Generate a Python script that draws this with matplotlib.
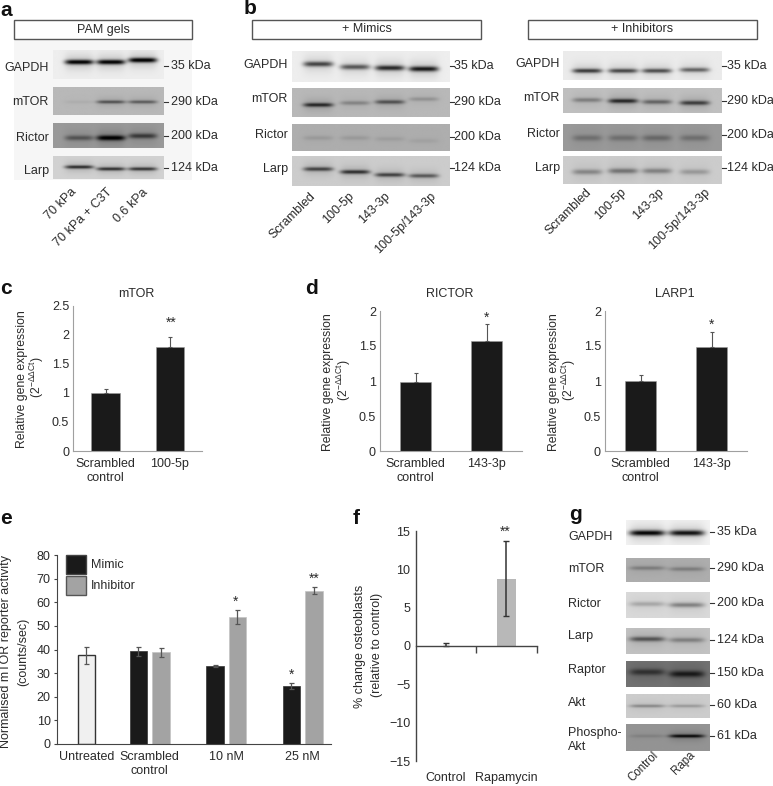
import numpy as np
import matplotlib
matplotlib.use("Agg")
import matplotlib.pyplot as plt
from matplotlib.patches import Rectangle, Patch

W, H = 773, 786
TXT = "#2a2a2a"
plt.rcParams["font.family"] = ["Liberation Sans", "DejaVu Sans"]
plt.rcParams["mathtext.default"] = "regular"
plt.rcParams["font.size"] = 9
plt.rcParams["text.color"] = TXT

# ---- blot data: one entry per row, band darkness and band height per lane
A_NAMES = ["GAPDH", "mTOR", "Rictor", "Larp"]
A_KDA = ["35 kDa", "290 kDa", "200 kDa", "124 kDa"]
A_TOP = [50, 87, 123, 156]
A_BOT = [79, 115, 148, 179]
A_BG = [0.93, 0.72, 0.6, 0.82]
A_BAND = [[62, 62, 60], [102, 102, 102], [138, 138, 136], [167, 169, 169]]
A_SIGMA = [2.4, 1.6, 2.6, 1.7]
A_DARK = [[0.88, 0.88, 0.9], [0.05, 0.5, 0.45], [0.4, 0.9, 0.55], [0.7, 0.68, 0.66]]
A_LANES = [79, 111, 143]
A_XTICK = ["70 kPa", "70 kPa + C3T", "0.6 kPa"]
A_XEND = [74, 110, 146]

M_TOP = [51, 88, 124, 156]
M_BOT = [82, 117, 151, 186]
M_BG = [0.93, 0.72, 0.68, 0.8]
M_BAND = [[64, 67, 68, 69], [105, 103, 102, 99], [138, 138, 139, 141], [169, 172, 175, 176]]
M_SIGMA = [2.6, 2.0, 2.2, 2.0]
M_DARK = [[0.62, 0.55, 0.72, 0.78], [0.7, 0.25, 0.5, 0.18], [0.1, 0.1, 0.08, 0.06], [0.6, 0.68, 0.6, 0.5]]
M_LANES = [318, 355, 390, 424]
B_NAMES = ["GAPDH", "mTOR", "Rictor", "Larp"]
B_KDA = ["35 kDa", "290 kDa", "200 kDa", "124 kDa"]
B_XTICK = ["Scrambled", "100-5p", "143-3p", "100-5p/143-3p"]
M_XEND = [313, 352, 388, 434]

I_TOP = [51, 88, 124, 156]
I_BOT = [80, 113, 151, 184]
I_BG = [0.92, 0.75, 0.6, 0.8]
I_BAND = [[71, 71, 71, 70], [100, 101, 102, 103], [138, 138, 138, 138], [172, 171, 171, 172]]
I_SIGMA = [2.2, 2.2, 3.0, 2.6]
I_DARK = [[0.65, 0.6, 0.58, 0.5], [0.3, 0.7, 0.42, 0.6], [0.24, 0.24, 0.28, 0.24], [0.3, 0.38, 0.32, 0.22]]
I_LANES = [587, 623, 657, 695]
I_XEND = [589, 624, 662, 708]

G_NAMES = ["GAPDH", "mTOR", "Rictor", "Larp", "Raptor", "Akt", "Phospho-\nAkt"]
G_KDA = ["35 kDa", "290 kDa", "200 kDa", "124 kDa", "150 kDa", "60 kDa", "61 kDa"]
G_TOP = [520, 558, 592, 628, 661, 694, 724]
G_BOT = [545, 582, 618, 654, 687, 718, 751]
G_BG = [0.95, 0.68, 0.85, 0.76, 0.45, 0.8, 0.58]
G_BAND = [[533, 533], [568, 569], [604, 605], [639, 640], [672, 674], [706, 706], [736, 736]]
G_SIGMA = [2.8, 2.0, 2.4, 2.4, 3.2, 1.5, 1.6]
G_DARK = [[0.85, 0.8], [0.25, 0.25], [0.2, 0.35], [0.5, 0.3], [0.5, 0.68], [0.3, 0.22], [0.12, 0.85]]
G_LANES = [647, 687]
G_XTICK = ["Control", "Rapa"]
G_XEND = [656, 693]

# ---- bar chart data
C_CATS = ["Scrambled\ncontrol", "100-5p"]
C_VALS = [1.0, 1.79]
C_ERR = [0.06, 0.18]
RICTOR_CATS = ["Scrambled\ncontrol", "143-3p"]
RICTOR_VALS = [0.99, 1.57]
RICTOR_ERR = [0.12, 0.25]
LARP_VALS = [1.0, 1.49]
LARP_ERR = [0.08, 0.21]

E_CATS = ["Untreated", "Scrambled\ncontrol", "10 nM", "25 nM"]
E_UNTREATED = 37.5
E_UNTREATED_ERR = 3.5
E_MIMIC = [39.2, 33.0, 24.7]
E_MIMIC_ERR = [1.8, 0.3, 1.3]
E_INHIB = [38.8, 53.9, 64.9]
E_INHIB_ERR = [2.0, 2.9, 1.5]

F_CATS = ["Control", "Rapamycin"]
F_VALS = [0.05, 8.8]
F_ERR_LOW = [0, 4.85]
F_ERR_HIGH = [0.3, 4.85]

fig = plt.figure(figsize=(W / 100, H / 100), dpi=100)

page = fig.add_axes([0, 0, 1, 1], zorder=5)
page.patch.set_alpha(0)
page.axis("off")


def make_axes(left, top, right, bottom):
    return fig.add_axes([left / W, 1 - bottom / H, (right - left) / W, (bottom - top) / H])


def draw_blots(x0, x1, tops, bots, bgs, bands, sigmas, darks, lanes, lane_w):
    for top, bot, bg, yb, sig, dark in zip(tops, bots, bgs, bands, sigmas, darks):
        xs = np.arange(x0, x1 + 1)
        ys = np.arange(top, bot + 1)
        X, Y = np.meshgrid(xs, ys)
        img = np.full(X.shape, float(bg))
        for cx, d, y_lane in zip(lanes, dark, yb):
            win = np.exp(-np.abs((X - cx) / (lane_w / 2)) ** 5)
            img -= d * bg * win * np.exp(-((Y - y_lane) / sig) ** 2)
            img -= 0.18 * d * bg * win * np.exp(-((Y - y_lane) / (sig * 3.5)) ** 2)
        page.imshow(np.clip(img, 0, 1), cmap="gray", vmin=0, vmax=1, aspect="auto",
                    extent=(x0, x1, bot, top), interpolation="bilinear", zorder=2)


def blot_labels(xlab, xtick, xkda, ys, names, kdas, ykda):
    for y, n in zip(ys, names):
        page.text(xlab, y, n, ha="right", va="center", fontsize=9)
    for y, k in zip(ykda, kdas):
        page.plot([xtick, xtick + 3.5], [y, y], color="#333333", lw=0.8, zorder=3)
        page.text(xkda, y, k, ha="left", va="center", fontsize=9)


def title_box(x0, x1, label):
    page.add_patch(Rectangle((x0, 20), x1 - x0, 19, fc="white", ec="#555555", lw=1, zorder=3))
    page.text((x0 + x1) / 2, 29.5, label, ha="center", va="center", fontsize=9, zorder=4)


def rot_labels(ends, y, labels, size=9):
    for x, lab in zip(ends, labels):
        page.text(x - 4, y - 2, lab, rotation=45, rotation_mode="anchor", ha="right", va="top", fontsize=size)


def star(x, y, s):
    page.text(x, y + 2, s, ha="center", va="center", fontsize=10)


def expr_bars(box, cats, vals, err, ymax, yticks, yticklabs, title, mark, mark_xy):
    ax = make_axes(*box)
    ax.bar([0, 1], vals, width=0.44, color="#1a1a1a", edgecolor="#999999", linewidth=0.4)
    ax.errorbar([0, 1], vals, yerr=[[0, 0], err], fmt="none", ecolor="#555555",
                elinewidth=0.8, capsize=1.5, capthick=0.8)
    ax.set_xlim(-0.5, 1.5)
    ax.set_ylim(0, ymax)
    ax.set_yticks(yticks, yticklabs)
    ax.set_xticks([0, 1], cats)
    ax.tick_params(length=0, pad=3, labelsize=9, labelcolor=TXT)
    ax.tick_params(axis="x", pad=5)
    for s in ["top", "right"]:
        ax.spines[s].set_visible(False)
    for s in ["left", "bottom"]:
        ax.spines[s].set_color("#a0a0a0")
    page.text((box[0] + box[2]) / 2 - 1, 294, title, ha="center", va="center", fontsize=9)
    star(mark_xy[0], mark_xy[1], mark)
    return ax


# panel a
page.add_patch(Rectangle((14, 38), 178, 142, fc="#f6f6f6", ec="none", zorder=1))
title_box(14, 192, "PAM gels")
draw_blots(53, 164, A_TOP, A_BOT, A_BG, A_BAND, A_SIGMA, A_DARK, A_LANES, 29)
blot_labels(49, 164, 171, [68, 102, 138, 171], A_NAMES, A_KDA, [66, 102, 136, 168])
rot_labels(A_XEND, 188, A_XTICK)

# panel b
title_box(252, 481, "+ Mimics")
draw_blots(292, 450, M_TOP, M_BOT, M_BG, M_BAND, M_SIGMA, M_DARK, M_LANES, 30)
blot_labels(288, 450, 454, [65, 99, 135, 169], B_NAMES, B_KDA, [66, 102, 137, 168])
rot_labels(M_XEND, 192, B_XTICK)

title_box(528, 757, "+ Inhibitors")
draw_blots(563, 722, I_TOP, I_BOT, I_BG, I_BAND, I_SIGMA, I_DARK, I_LANES, 30)
blot_labels(560, 722, 727, [64, 98, 134, 168], B_NAMES, B_KDA, [66, 101, 135, 168])
rot_labels(I_XEND, 188, B_XTICK)

# panel c, d
expr_bars((73.4, 305.7, 202, 451), C_CATS, C_VALS, C_ERR, 2.5,
          [0, 0.5, 1, 1.5, 2, 2.5], ["0", "0.5", "1", "1.5", "2", "2.5"], "mTOR", "**", (171, 321))
expr_bars((380, 311, 522, 451), RICTOR_CATS, RICTOR_VALS, RICTOR_ERR, 2,
          [0, 0.5, 1, 1.5, 2], ["0", "0.5", "1", "1.5", "2"], "RICTOR", "*", (487, 316))
expr_bars((605, 311, 747, 451), RICTOR_CATS, LARP_VALS, LARP_ERR, 2,
          [0, 0.5, 1, 1.5, 2], ["0", "0.5", "1", "1.5", "2"], "LARP1", "*", (712, 323))
for x1, x2, yc in [(22, 37, 379), (328, 344, 382), (554, 569, 382)]:
    page.text(x1, yc, "Relative gene expression", rotation=90, ha="center", va="center", fontsize=8.8)
    page.text(x2, yc - 2, r"(2$^{-\Delta\Delta Ct}$)", rotation=90, ha="center", va="center", fontsize=8.8)

# panel e
ax = make_axes(57, 555, 331, 744)
group_x = np.array([1, 2, 3])
ax.bar(0.176, E_UNTREATED, width=0.229, color="#f0f0f0", edgecolor="#333333", linewidth=1)
ax.errorbar(0.176, E_UNTREATED, yerr=E_UNTREATED_ERR, fmt="none", ecolor="#555555",
            elinewidth=0.9, capsize=1.8, capthick=0.9)
ax.bar(group_x - 0.146, E_MIMIC, width=0.229, color="#1a1a1a", edgecolor="#333333", linewidth=0.5)
ax.bar(group_x + 0.146, E_INHIB, width=0.229, color="#a3a3a3", edgecolor="#c4c4c4", linewidth=0.5)
ax.errorbar(group_x - 0.146, E_MIMIC, yerr=E_MIMIC_ERR, fmt="none", ecolor="#555555",
            elinewidth=0.9, capsize=1.8, capthick=0.9)
ax.errorbar(group_x + 0.146, E_INHIB, yerr=E_INHIB_ERR, fmt="none", ecolor="#555555",
            elinewidth=0.9, capsize=1.8, capthick=0.9)
ax.set_xlim(-0.209, 3.37)
ax.set_ylim(0, 80)
ax.set_yticks(np.arange(0, 81, 10))
ax.set_xticks([0.176, 1, 2, 3], E_CATS)
ax.tick_params(axis="y", length=2.5, width=0.8, pad=2, labelsize=9, labelcolor=TXT, color="#444444")
ax.tick_params(axis="x", length=0, pad=5, labelsize=9, labelcolor=TXT)
for s in ["top", "right"]:
    ax.spines[s].set_visible(False)
for s in ["left", "bottom"]:
    ax.spines[s].set_color("#444444")
ax.legend(handles=[Patch(fc="#1a1a1a", ec="#444444", label="Mimic"),
                   Patch(fc="#a3a3a3", ec="#555555", label="Inhibitor")],
          loc="upper left", bbox_to_anchor=(0.033, 1.0), frameon=False, fontsize=9,
          handlelength=1.6, handleheight=1.9, labelspacing=0.2, handletextpad=0.4, borderpad=0, borderaxespad=0)
page.text(6, 652, "Normalised mTOR reporter activity", rotation=90, ha="center", va="center", fontsize=9)
page.text(23, 652, "(counts/sec)", rotation=90, ha="center", va="center", fontsize=9)
for x, y, s in [(236, 600, "*"), (292, 673, "*"), (314, 577, "**")]:
    star(x, y, s)

# panel f
ax = make_axes(415.7, 531, 536.7, 761)
ax.bar([0, 1], F_VALS, width=0.31, color="#b8b8b8", edgecolor="none")
ax.errorbar([0, 1], F_VALS, yerr=[F_ERR_LOW, F_ERR_HIGH], fmt="none", ecolor="#333333",
            elinewidth=1.1, capsize=2, capthick=1)
ax.set_xlim(-0.5, 1.5)
ax.set_ylim(-15, 15)
ax.set_yticks([-15, -10, -5, 0, 5, 10, 15])
ax.spines["bottom"].set_position(("data", 0))
ax.set_xticks([0, 1], F_CATS)
ax.set_xticks([0.5, 1.5], minor=True)
ax.tick_params(axis="x", which="major", length=0, pad=91, labelsize=9, labelcolor=TXT)
ax.tick_params(axis="x", which="minor", length=5, width=1, color="#444444", direction="out")
ax.tick_params(axis="y", length=0, pad=4, labelsize=9, labelcolor=TXT)
for s in ["top", "right"]:
    ax.spines[s].set_visible(False)
for s in ["left", "bottom"]:
    ax.spines[s].set_color("#444444")
    ax.spines[s].set_linewidth(1)
page.text(360, 646, "% change osteoblasts", rotation=90, ha="center", va="center", fontsize=9)
page.text(377, 645, "(relative to control)", rotation=90, ha="center", va="center", fontsize=9)
star(505.7, 530, "**")

# panel g
draw_blots(626, 710, G_TOP, G_BOT, G_BG, G_BAND, G_SIGMA, G_DARK, G_LANES, 36)
for y, n in zip([537, 569, 604, 636, 670, 703, 740], G_NAMES):
    page.text(568, y, n, ha="left", va="center", fontsize=9, linespacing=1.2)
for y, k in zip([532, 568, 603, 640, 673, 705, 736], G_KDA):
    page.plot([710, 713.5], [y, y], color="#333333", lw=0.8, zorder=3)
    page.text(717, y, k, ha="left", va="center", fontsize=9)
rot_labels(G_XEND, 751, G_XTICK, size=8.3)

# panel letters
for x, y, s in [(0, 10, "a"), (244, 9, "b"), (0, 288, "c"), (305, 288, "d"),
                (0, 519, "e"), (353, 518, "f"), (569, 515, "g")]:
    page.text(x, y, s, ha="left", va="center", fontsize=15, fontweight="bold", color="#111111")

page.set_xlim(0, W)
page.set_ylim(H, 0)

fig.savefig("out.png", dpi=100)
